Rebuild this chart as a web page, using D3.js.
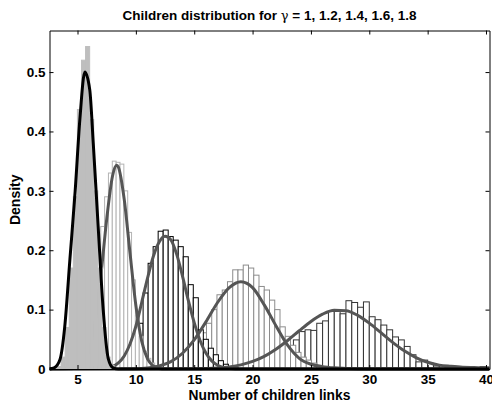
<!DOCTYPE html>
<html><head><meta charset="utf-8">
<script src="https://cdn.jsdelivr.net/npm/d3@7"></script>
<style>
body{margin:0;background:#fff}
svg{display:block}
text{font-family:"Liberation Sans",Arial,Helvetica,sans-serif;font-weight:bold;fill:#000}
</style>
</head><body>
<svg id="chart" width="492" height="402"></svg>
<script>
// ---- data ----
const xTicks = [5, 10, 15, 20, 25, 30, 35, 40];
const yTicks = [0, 0.1, 0.2, 0.3, 0.4, 0.5];
const xDomain = [2.6, 40.3];
const yDomain = [0, 0.57];

// histogram gamma = 1 (grey filled)
const h1Left = [2.89,3.24,3.59,3.94,4.29,4.64,4.99,5.34,5.69,6.04,6.39,6.74,7.09,7.44,7.79,8.14];
const h1Width = 0.35;
const h1Values = [0.001,0.004,0.02,0.07,0.17,0.29,0.437,0.52,0.543,0.42,0.30,0.17,0.07,0.02,0.006,0.002];

// histogram gamma = 1.2
const h2Left = [5.67,6.0,6.33,6.66,6.99,7.32,7.65,7.98,8.31,8.64,8.97,9.3,9.63,9.96,10.29,10.62,10.95,11.28,11.61,11.94,12.27];
const h2Width = 0.33;
const h2Values = [0.01,0.03,0.06,0.14,0.24,0.29,0.33,0.35,0.348,0.345,0.30,0.23,0.15,0.09,0.055,0.03,0.018,0.01,0.006,0.004,0.002];

// histogram gamma = 1.4
const h3Left = [8.04,8.47,8.9,9.33,9.76,10.19,10.62,11.05,11.48,11.91,12.34,12.77,13.2,13.63,14.06,14.49,14.92,15.35,15.78,16.21,16.64,17.07,17.5,17.93,18.36];
const h3Width = 0.43;
const h3Values = [0.002,0.004,0.01,0.02,0.049,0.077,0.128,0.178,0.206,0.232,0.234,0.223,0.217,0.206,0.189,0.142,0.12,0.066,0.05,0.035,0.024,0.014,0.008,0.004,0.002];

// histogram gamma = 1.6
const h4Left = [12.0,12.45,12.9,13.35,13.8,14.25,14.7,15.15,15.6,16.05,16.5,16.95,17.4,17.85,18.3,18.75,19.2,19.65,20.1,20.55,21.0,21.45,21.9,22.35,22.8,23.25,23.7,24.15,24.6,25.05,25.5,25.95];
const h4Width = 0.45;
const h4Values = [0.003,0.005,0.008,0.012,0.018,0.022,0.03,0.046,0.061,0.077,0.10,0.125,0.133,0.147,0.167,0.167,0.175,0.17,0.158,0.139,0.133,0.116,0.10,0.071,0.055,0.04,0.028,0.02,0.015,0.01,0.006,0.003];

// histogram gamma = 1.8
const h5Left = [17,17.5,18,18.5,19,19.5,20,20.5,21,21.5,22,22.5,23,23.5,24,24.5,25,25.5,26,26.5,27,27.5,28,28.5,29,29.5,30,30.5,31,31.5,32,32.5,33,33.5,34,34.5,35,35.5,36,36.5,37,37.5,38,39.5];
const h5Width = 0.5;
const h5Values = [0.004,0.008,0.012,0.015,0.018,0.017,0.02,0.022,0.025,0.029,0.03,0.034,0.038,0.049,0.063,0.066,0.065,0.077,0.081,0.097,0.097,0.093,0.115,0.112,0.104,0.113,0.088,0.083,0.074,0.066,0.054,0.049,0.038,0.024,0.012,0.015,0.0096,0.005,0.005,0.003,0.002,0.001,0.001,0.004];

// fitted curves
const c1X = [2.6,3.0,3.5,3.9,4.35,4.8,5.2,5.63,6.05,6.35,6.77,7.2,7.63,8.05,8.5,40.3];
const c1Y = [0,0.002,0.016,0.07,0.185,0.30,0.42,0.50,0.47,0.38,0.24,0.10,0.018,0.002,0,0];
const c2X = [2.6,4.5,5,5.5,6,6.5,7,7.5,8,8.35,8.5,9,9.5,10,10.5,11,11.5,12,12.5,40.3];
const c2Y = [0,0.0005,0.0028,0.0106,0.032,0.079,0.157,0.252,0.325,0.343,0.340,0.286,0.195,0.107,0.047,0.017,0.005,0.001,0,0];
const c3X = [2.6,8,8.5,9,9.5,10,10.5,11,11.5,12,12.5,13,13.5,14,14.5,15,15.5,16,16.5,17,17.5,18,18.5,40.3];
const c3Y = [0,0.0046,0.0102,0.022,0.042,0.072,0.112,0.153,0.19,0.214,0.2236,0.2175,0.193,0.156,0.115,0.078,0.048,0.027,0.0137,0.0064,0.0027,0.001,0,0];
const c4X = [2.6,10,11,12,13,14,15,16,17,18,19,20,21,22,23,24,25,26,27,28,29,30,40.3];
const c4Y = [0,0.0006,0.0018,0.0051,0.0125,0.0265,0.049,0.0793,0.112,0.137,0.147,0.137,0.108,0.073,0.040,0.018,0.008,0.004,0.002,0.001,0.0002,0,0];
const c5X = [2.6,15,16,17,18,19,20,21,22,23,24,25,26,27,28,29,30,31,32,33,34,35,36,37,38,39,40,40.3];
const c5Y = [0,0.0003,0.0008,0.0017,0.0036,0.007,0.0127,0.0213,0.0333,0.048,0.0644,0.0801,0.0924,0.0989,0.0982,0.0904,0.0772,0.0611,0.0449,0.0306,0.0193,0.0113,0.0065,0.0045,0.003,0.0025,0.002,0.002];

// ---- chart ----
const svg = d3.select("#chart");
const L = 49.5, R = 489.5, T = 30.5, B = 369;
const x = d3.scaleLinear().domain(xDomain).range([L, R]);
const y = d3.scaleLinear().domain(yDomain).range([B, T]);

svg.append("defs").append("clipPath").attr("id","clip")
  .append("rect").attr("x", L).attr("y", T - 2).attr("width", R - L).attr("height", B - T + 6);

const plot = svg.append("g").attr("clip-path","url(#clip)");

function hist(lefts, width, values, fill, stroke) {
  plot.append("g").selectAll("rect")
    .data(lefts.map((l, i) => ({l, v: values[i]})))
    .join("rect")
    .attr("x", d => x(d.l))
    .attr("y", d => y(d.v))
    .attr("width", d => x(d.l + width) - x(d.l))
    .attr("height", d => y(0) - y(d.v))
    .attr("fill", fill)
    .attr("stroke", stroke)
    .attr("stroke-width", 1);
}
function curve(xs, ys, color) {
  const line = d3.line().x(d => x(d[0])).y(d => y(d[1])).curve(d3.curveMonotoneX);
  plot.append("path")
    .attr("d", line(xs.map((v, i) => [v, ys[i]])))
    .attr("fill", "none")
    .attr("stroke", color)
    .attr("stroke-width", 3)
    .attr("stroke-linejoin", "round");
}

hist(h5Left, h5Width, h5Values, "#fff", "#333");
hist(h4Left, h4Width, h4Values, "#fff", "#8c8c8c");
hist(h3Left, h3Width, h3Values, "#fff", "#000");
hist(h2Left, h2Width, h2Values, "#fff", "#b4b4b4");
curve(c5X, c5Y, "#555");
curve(c4X, c4Y, "#555");
curve(c3X, c3Y, "#555");
curve(c2X, c2Y, "#555");
hist(h1Left, h1Width, h1Values, "#bebebe", "#bebebe");
curve(c1X, c1Y, "#000");

// axes
const fs = 13.5;
const gx = svg.append("g").attr("transform", `translate(0,${B})`)
  .call(d3.axisBottom(x).tickValues(xTicks).tickSizeInner(-4).tickSizeOuter(0).tickPadding(5).tickFormat(d3.format("d")));
const gxt = svg.append("g").attr("transform", `translate(0,${T})`)
  .call(d3.axisTop(x).tickValues(xTicks).tickSizeInner(-4).tickSizeOuter(0).tickFormat(""));
const gy = svg.append("g").attr("transform", `translate(${L},0)`)
  .call(d3.axisLeft(y).tickValues(yTicks).tickSizeInner(-4).tickSizeOuter(0).tickPadding(4).tickFormat(d => d === 0 ? "0" : d3.format(".1f")(d)));
const gyr = svg.append("g").attr("transform", `translate(${R},0)`)
  .call(d3.axisRight(y).tickValues(yTicks).tickSizeInner(-4).tickSizeOuter(0).tickFormat(""));
[gx, gxt, gy, gyr].forEach(g => {
  g.selectAll("text").attr("font-size", fs).attr("font-family", null).style("font-weight","bold");
  g.selectAll("path.domain").attr("stroke", "#000").attr("stroke-width", 1);
  g.selectAll("line").attr("stroke", "#000");
});

// title
const title = svg.append("text").attr("x", (L + R) / 2).attr("y", 20)
  .attr("text-anchor", "middle").attr("font-size", 13.5);
title.append("tspan").text("Children distribution for ");
title.append("tspan").attr("font-weight", "normal").style("font-weight","normal")
  .attr("font-family", "'DejaVu Serif', serif").attr("font-size", 13).text("γ");
title.append("tspan").text(" = 1, 1.2, 1.4, 1.6, 1.8");

svg.append("text").attr("x", (L + R) / 2).attr("y", 399.5)
  .attr("text-anchor", "middle").attr("font-size", 13.8).text("Number of children links");
svg.append("text").attr("transform", `translate(20,${(T + B) / 2}) rotate(-90)`)
  .attr("text-anchor", "middle").attr("font-size", 14).text("Density");
</script>
</body></html>
